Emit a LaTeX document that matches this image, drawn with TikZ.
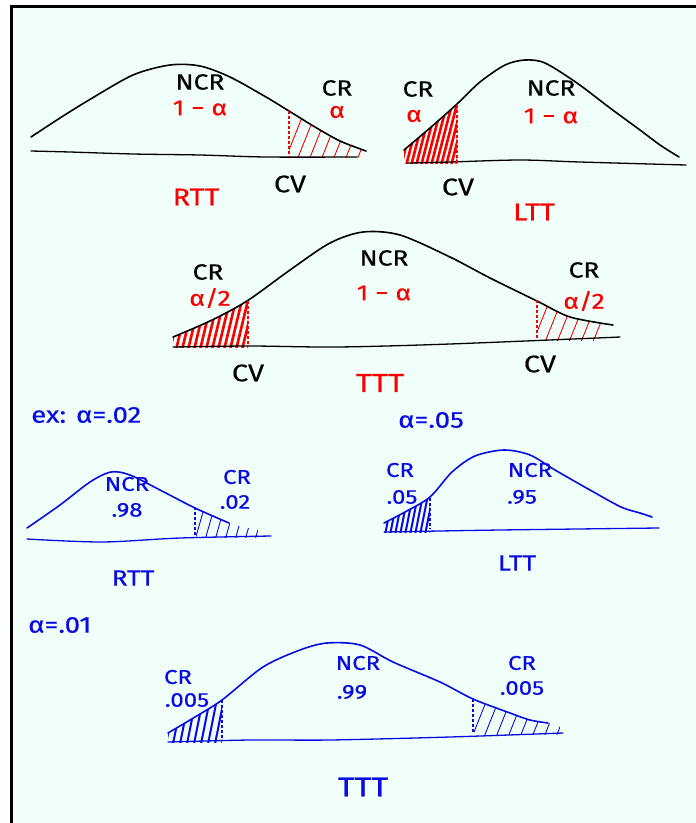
\documentclass[tikz,border=0pt]{standalone}
\usepackage{fontspec}
\setmainfont{Fira Sans}[FakeStretch=1.2, FakeBold=0.5]
\definecolor{bgmint}{RGB}{240,255,250}
\definecolor{pred}{RGB}{250,0,0}
\definecolor{pblue}{RGB}{10,10,225}
\tikzset{
  curve/.style={line width=1.6pt, line join=round, line cap=round},
  base/.style={line width=1.3pt, line cap=round},
  cutline/.style={line width=1.6pt, dash pattern=on 3pt off 2pt},
  thinhatch/.style={line width=0.9pt, line cap=round},
  thickhatch/.style={line width=2.6pt, line cap=round},
  lbl/.style={inner sep=0pt, font=\fontsize{22}{24}\selectfont},
  biglbl/.style={inner sep=0pt, font=\fontsize{24}{26}\selectfont},
  blbl/.style={inner sep=0pt, font=\fontsize{20}{22}\selectfont},
  exlbl/.style={inner sep=0pt, anchor=west, pblue, font=\fontsize{23}{25}\selectfont},
}
\begin{document}
\begin{tikzpicture}[x=1pt,y=-1pt]
\useasboundingbox (0,0) rectangle (696,823);
\fill[white] (0,0) rectangle (696,823);
\fill[bgmint] (11,6) rectangle (696,823);
\draw[line width=3pt] (11.5,823) -- (11.5,6.5) -- (696,6.5);

% ---------------- Top left: RTT (black/red)
\def\rttA{(31,137) (60,118) (89,100) (133,75) (170,65) (200,66) (230,77) (266,97) (289,111) (315,127) (340,141) (366,151)}
\begin{scope}
  \clip (289,100) rectangle (362,157);
  \clip plot[smooth] coordinates {\rttA} -- (366,160) -- (31,160) -- cycle;
  \foreach \x in {285,297,309,321,333,345,357}
    \draw[pred, thinhatch] (\x,160) -- ++(18,-45);
\end{scope}
\draw[curve] plot[smooth] coordinates {\rttA};
\draw[base] plot[smooth] coordinates {(31,151) (70,152) (133,154) (200,155) (266,157) (357,157)};
\draw[pred, cutline] (289,111) -- (289,157);
\node[lbl] (ncr1) at (200,82) {NCR};
\node[lbl, pred] (one1) at (200,108) {1 − α};
\node[lbl] (cr1) at (337,88) {CR};
\node[lbl, pred] (a1) at (337,112) {α};
\node[biglbl] (cv1) at (290,184) {CV};
\node[biglbl, pred] (rtt1) at (196,197) {RTT};

% ---------------- Top right: LTT
\def\lttA{(404,150) (430,128) (457,104) (480,82) (505,65) (525,60) (545,63) (577,83) (610,108) (640,130) (660,145) (679,157)}
\begin{scope}
  \clip (404,90) rectangle (457,163);
  \clip plot[smooth] coordinates {\lttA} -- (679,170) -- (404,170) -- cycle;
  \foreach \x in {396,401,...,460}
    \draw[pred, thickhatch] (\x,166) -- ++(16,-62);
\end{scope}
\draw[curve] plot[smooth] coordinates {\lttA};
\draw[base] plot[smooth] coordinates {(408,163) (450,162) (520,160) (580,162) (686,165)};
\draw[pred, cutline] (457,105) -- (457,163);
\node[lbl] (cr2) at (418,89) {CR};
\node[lbl, pred] (a2) at (414,116) {α};
\node[lbl] (ncr2) at (551,88) {NCR};
\node[lbl, pred] (one2) at (551,116) {1 − α};
\node[biglbl] (cv2) at (458,187) {CV};
\node[biglbl, pred] (ltt2) at (534,212) {LTT};

% ---------------- Middle: TTT
\def\tttA{(173,337) (210,321) (247,301) (290,270) (330,243) (363,232) (400,235) (450,257) (490,278) (537,301) (570,317) (613,325)}
\begin{scope}
  \clip (173,290) rectangle (248,347);
  \clip plot[smooth] coordinates {\tttA} -- (613,350) -- (173,350) -- cycle;
  \foreach \x in {170,176,...,252}
    \draw[pred, thickhatch] (\x,350) -- ++(12,-50);
\end{scope}
\begin{scope}
  \clip (537,290) rectangle (606,340);
  \clip plot[smooth] coordinates {\tttA} -- (613,345) -- (173,345) -- cycle;
  \foreach \x in {533,545,557,569,581,593}
    \draw[pred, thinhatch] (\x,342) -- ++(18,-45);
\end{scope}
\draw[curve] plot[smooth] coordinates {\tttA};
\draw[base] plot[smooth] coordinates {(173,347) (250,346) (337,347) (450,344) (620,337)};
\draw[pred, cutline] (248,301) -- (248,346);
\draw[pred, cutline] (537,300) -- (537,338);
\node[lbl] (cr3l) at (208,272) {CR};
\node[lbl, pred] (a3l) at (210,298) {α/2};
\node[lbl] (ncr3) at (384,258) {NCR};
\node[lbl, pred] (one3) at (384,293) {1 − α};
\node[lbl] (cr3r) at (584,270) {CR};
\node[lbl, pred] (a3r) at (584,301) {α/2};
\node[biglbl] (cv3l) at (248,373) {CV};
\node[biglbl] (cv3r) at (540,364) {CV};
\node[biglbl, pred, font=\fontsize{26}{28}\selectfont] (ttt3) at (380,383) {TTT};

% ---------------- Examples (blue)
\node[exlbl] (ex) at (31,415) {ex:\hspace{10pt}α=.02};
\node[exlbl] (ex05) at (398,420) {α=.05};
\node[exlbl] (ex01) at (28,625) {α=.01};

% blue RTT
\def\brtt{(27,528) (60,505) (90,482) (111,472) (130,475) (160,490) (195,508) (229,523) (258,530)}
\begin{scope}
  \clip (196,495) rectangle (260,537);
  \clip plot[smooth] coordinates {\brtt} -- (262,540) -- (27,540) -- cycle;
  \foreach \x in {195,205,215,225,235,245,255}
    \draw[pblue, thinhatch] (\x,540) -- ++(10,-35);
\end{scope}
\draw[pblue, curve] plot[smooth] coordinates {(27,528) (60,505) (90,482) (111,472) (130,475) (160,490) (195,508) (229,523)};
\draw[pblue, base] plot[smooth] coordinates {(27,539) (102,542) (180,538) (271,536)};
\draw[pblue, cutline] (195,507) -- (195,538);
\node[blbl, pblue] (ncr4) at (127,484) {NCR};
\node[blbl, pblue] (v98) at (127,510) {.98};
\node[blbl, pblue] (cr4) at (237,477) {CR};
\node[blbl, pblue] (v02) at (235,502) {.02};
\node[blbl, pblue, font=\fontsize{22}{24}\selectfont] (rtt4) at (133,578) {RTT};

% blue LTT
\def\bltt{(384,523) (405,512) (430,497) (452,472) (475,456) (504,450) (530,455) (555,470) (590,490) (621,507) (640,513) (652,517)}
\begin{scope}
  \clip (384,490) rectangle (430,532);
  \clip plot[smooth] coordinates {\bltt} -- (652,535) -- (384,535) -- cycle;
  \foreach \x in {380,385,...,432}
    \draw[pblue, thickhatch, line width=2pt] (\x,535) -- ++(8,-40);
\end{scope}
\draw[pblue, curve] plot[smooth] coordinates {\bltt};
\draw[pblue, base] plot[smooth] coordinates {(384,532) (500,530) (659,528)};
\draw[pblue, cutline] (430,498) -- (430,529);
\node[blbl, pblue] (cr5) at (400,470) {CR};
\node[blbl, pblue] (v05) at (402,497) {.05};
\node[blbl, pblue] (ncr5) at (530,470) {NCR};
\node[blbl, pblue] (v95) at (522,497) {.95};
\node[blbl, pblue, font=\fontsize{22}{24}\selectfont] (ltt5) at (517,563) {LTT};

% blue TTT
\def\bttt{(168,733) (195,717) (222,700) (263,667) (300,650) (327,643) (360,645) (393,662) (440,682) (473,699) (510,713) (530,720) (548,723) (560,726)}
\begin{scope}
  \clip (168,690) rectangle (222,742);
  \clip plot[smooth] coordinates {\bttt} -- (560,745) -- (168,745) -- cycle;
  \foreach \x in {166,173,...,224}
    \draw[pblue, thickhatch, line width=2pt] (\x,744) -- ++(8,-40);
\end{scope}
\begin{scope}
  \clip (474,690) rectangle (560,734);
  \clip plot[smooth] coordinates {\bttt} -- (560,740) -- (168,740) -- cycle;
  \foreach \x in {472,484,496,508,520,532,544,556}
    \draw[pblue, thinhatch] (\x,737) -- ++(14,-35);
\end{scope}
\draw[pblue, curve] plot[smooth] coordinates {(168,733) (195,717) (222,700) (263,667) (300,650) (327,643) (360,645) (393,662) (440,682) (473,699) (510,713) (530,720) (548,723)};
\draw[pblue, base] plot[smooth] coordinates {(168,742) (250,740) (330,740) (450,737) (563,733)};
\draw[pblue, cutline] (222,700) -- (222,740);
\draw[pblue, cutline] (473,699) -- (473,732);
\node[blbl, pblue] (cr6l) at (178,677) {CR};
\node[blbl, pblue] (v6l) at (187,700) {.005};
\node[blbl, pblue] (ncr6) at (358,663) {NCR};
\node[blbl, pblue] (v99) at (352,692) {.99};
\node[blbl, pblue] (cr6r) at (522,663) {CR};
\node[blbl, pblue] (v6r) at (522,688) {.005};
\node[biglbl, pblue, font=\fontsize{27}{29}\selectfont] (ttt6) at (363,787) {TTT};
\end{tikzpicture}
\end{document}
